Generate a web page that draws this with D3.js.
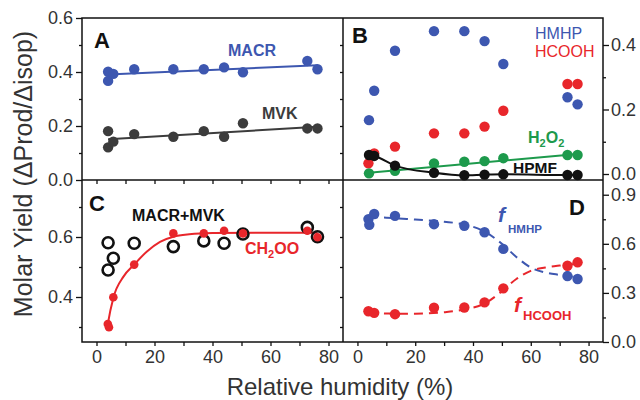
<!DOCTYPE html>
<html><head><meta charset="utf-8">
<script src="https://cdn.jsdelivr.net/npm/d3@7"></script>
<style>body{margin:0;background:#fff}svg{display:block;font-family:"Liberation Sans",Arial,sans-serif}</style>
</head><body><svg id="c" width="640" height="400"></svg>
<script>
// ---- data ----
const rhA = [4, 4, 5.8, 13, 26.5, 37, 44, 50.5, 72.7, 76.2];
const macr = [0.401, 0.367, 0.393, 0.410, 0.410, 0.410, 0.417, 0.399, 0.441, 0.410];
const mvk = [0.181, 0.121, 0.142, 0.170, 0.160, 0.181, 0.160, 0.210, 0.191, 0.191];
const macrFit = [[4, 0.391], [76.2, 0.425]];
const mvkFit = [[4, 0.151], [76.2, 0.197]];

const rhB = [4, 5.8, 13, 26.5, 37, 44, 50.5, 72.7, 76.2];
const hmhp = [0.167, 0.258, 0.382, 0.443, 0.443, 0.412, 0.341, 0.238, 0.216];
const rhHcooh = [3.8, 5.8, 13, 26.5, 37, 44, 50.5, 72.7, 76.2];
const hcooh = [0.033, 0.064, 0.085, 0.126, 0.126, 0.147, 0.196, 0.279, 0.279];
const rhH2o2 = [4, 13, 26.5, 37, 44, 50.5, 72.7, 76.2];
const h2o2 = [0.002, 0.010, 0.033, 0.038, 0.040, 0.049, 0.059, 0.059];
const h2o2Fit = [[4, 0.004], [76.2, 0.062]];
const hpmf = [0.059, 0.056, 0.026, 0.004, -0.004, -0.002, -0.001, -0.003, -0.003];

const macrMvk = [0.581, 0.490, 0.529, 0.579, 0.568, 0.587, 0.579, 0.610, 0.632, 0.601];
const rhCh2oo = [3.9, 4.3, 5.8, 13, 26.5, 37, 44, 50.5, 72.7, 76.2];
const ch2oo = [0.310, 0.299, 0.399, 0.508, 0.612, 0.612, 0.621, 0.612, 0.621, 0.599];
const ch2ooFit = [[3.6, 0.29], [4, 0.315], [5.8, 0.397], [9.3, 0.468], [12.9, 0.507], [17.3, 0.551], [21.9, 0.584], [26.5, 0.601], [32, 0.609], [40, 0.613], [55, 0.614], [76.2, 0.614]];

const rhD = [3.8, 4.1, 5.8, 13, 26.5, 37, 44, 50.5, 72.7, 76.2];
const fHmhp = [0.751, 0.716, 0.782, 0.771, 0.720, 0.710, 0.671, 0.569, 0.403, 0.385];
const rhD2 = [3.8, 5.8, 13, 26.5, 37, 44, 50.5, 72.7, 76.2];
const fHcooh = [0.188, 0.178, 0.170, 0.209, 0.211, 0.242, 0.328, 0.466, 0.487];
const fHmhpFit = [[4, 0.765], [10, 0.760], [20, 0.748], [30, 0.735], [37, 0.718], [44, 0.675], [50, 0.600], [55, 0.520], [60, 0.455], [65, 0.425], [70, 0.410], [76.2, 0.395]];
const fHcoohFit = [[4, 0.182], [10, 0.174], [20, 0.173], [30, 0.182], [37, 0.198], [44, 0.235], [50, 0.310], [55, 0.385], [60, 0.435], [65, 0.455], [70, 0.467], [76.2, 0.478]];

const xTicks = [0, 20, 40, 60, 80];
const xMinor = [10, 30, 50, 70];

// ---- colours ----
const BLUE = "#3d57b0", RED = "#e8262b", GREEN = "#1d9a4c", BLK = "#111", GRAY = "#3c3c3c";

const svg = d3.select("#c");
const L = 82, M = 343, R = 603, T = 18, H = 180, B = 342;
const xL = d3.scaleLinear().domain([-5, 85]).range([L, M]);
const xR = d3.scaleLinear().domain([-5, 85]).range([M, R]);
const yA = d3.scaleLinear().domain([0, 0.6]).range([H, T]);
const yB = d3.scaleLinear().domain([-0.0186, 0.4837]).range([H, T]);
const yC = d3.scaleLinear().domain([0.25, 0.79]).range([B, H]);
const yD = d3.scaleLinear().domain([0, 0.99]).range([B, H]);

function styleAxis(g) {
  g.select(".domain").remove();
  g.selectAll("line").attr("stroke", "#111").attr("stroke-width", 1.3);
  g.selectAll("text").attr("font-size", 18).attr("fill", "#333").attr("font-family", "Liberation Sans, Arial, sans-serif");
}
const f1 = d3.format(".1f");
function axis(gen, tr) { const g = svg.append("g").attr("transform", tr).call(gen); styleAxis(g); return g; }

// left axes
axis(d3.axisLeft(yA).tickValues([0, 0.2, 0.4, 0.6]).tickFormat(f1).tickSize(6).tickPadding(3), `translate(${L},0)`);
axis(d3.axisLeft(yA).tickValues([0.1, 0.3, 0.5]).tickFormat("").tickSize(3), `translate(${L},0)`);
axis(d3.axisLeft(yC).tickValues([0.4, 0.6]).tickFormat(f1).tickSize(6).tickPadding(3), `translate(${L},0)`);
axis(d3.axisLeft(yC).tickValues([0.3, 0.5, 0.7]).tickFormat("").tickSize(3), `translate(${L},0)`);
// mirrored inner ticks on divider
axis(d3.axisLeft(yA).tickValues([0.1, 0.2, 0.3, 0.4, 0.5]).tickFormat("").tickSize(3), `translate(${M},0)`);
axis(d3.axisLeft(yC).tickValues([0.3, 0.4, 0.5, 0.6, 0.7]).tickFormat("").tickSize(3), `translate(${M},0)`);
// right axes
axis(d3.axisRight(yB).tickValues([0, 0.2, 0.4]).tickFormat(f1).tickSize(6).tickPadding(2), `translate(${R},0)`);
axis(d3.axisRight(yB).tickValues([0.1, 0.3]).tickFormat("").tickSize(3), `translate(${R},0)`);
axis(d3.axisRight(yD).tickValues([0, 0.3, 0.6, 0.9]).tickFormat(f1).tickSize(6).tickPadding(2), `translate(${R},0)`);
axis(d3.axisRight(yD).tickValues([0.15, 0.45, 0.75]).tickFormat("").tickSize(3), `translate(${R},0)`);
// bottom axes
axis(d3.axisBottom(xL).tickValues(xTicks).tickFormat(d3.format("d")).tickSize(4).tickPadding(4), `translate(0,${B})`);
axis(d3.axisBottom(xL).tickValues(xMinor).tickFormat("").tickSize(4), `translate(0,${B})`);
axis(d3.axisBottom(xR).tickValues(xTicks).tickFormat(d3.format("d")).tickSize(4).tickPadding(4), `translate(0,${B})`);
axis(d3.axisBottom(xR).tickValues(xMinor).tickFormat("").tickSize(4), `translate(0,${B})`);
// mirrored ticks at middle divider
axis(d3.axisBottom(xL).tickValues(xTicks.concat(xMinor)).tickFormat("").tickSize(4), `translate(0,${H})`);

// frame
svg.append("rect").attr("x", L).attr("y", T).attr("width", R - L).attr("height", B - T)
  .attr("fill", "none").attr("stroke", "#111").attr("stroke-width", 1.5);
svg.append("line").attr("x1", M).attr("x2", M).attr("y1", T).attr("y2", B).attr("stroke", "#111").attr("stroke-width", 1.5);
svg.append("line").attr("x1", L).attr("x2", R).attr("y1", H).attr("y2", H).attr("stroke", "#111").attr("stroke-width", 1.5);

// helpers
function lineOf(pts, xs, ys, color, w, curve, dash) {
  const gen = d3.line().x(d => xs(d[0])).y(d => ys(d[1])).curve(curve || d3.curveLinear);
  const p = svg.append("path").datum(pts).attr("d", gen).attr("fill", "none")
    .attr("stroke", color).attr("stroke-width", w);
  if (dash) p.attr("stroke-dasharray", dash);
  return p;
}
function dots(xv, yv, xs, ys, color, r) {
  svg.append("g").selectAll("circle").data(xv.map((x, i) => [x, yv[i]])).join("circle")
    .attr("cx", d => xs(d[0])).attr("cy", d => ys(d[1])).attr("r", r).attr("fill", color);
}
function rings(xv, yv, xs, ys, color, r) {
  svg.append("g").selectAll("circle").data(xv.map((x, i) => [x, yv[i]])).join("circle")
    .attr("cx", d => xs(d[0])).attr("cy", d => ys(d[1])).attr("r", r).attr("fill", "none")
    .attr("stroke", color).attr("stroke-width", 2.6);
}
function txt(x, y, s, opts) {
  const t = svg.append("text").attr("x", x).attr("y", y).text(s)
    .attr("font-size", opts.size || 14).attr("fill", opts.color || "#111")
    .attr("font-weight", opts.weight || "bold");
  if (opts.style) t.attr("font-style", opts.style);
  if (opts.anchor) t.attr("text-anchor", opts.anchor);
  return t;
}

// Panel A
lineOf(macrFit, xL, yA, BLUE, 2);
dots(rhA, macr, xL, yA, BLUE, 5.2);
lineOf(mvkFit, xL, yA, GRAY, 2);
dots(rhA, mvk, xL, yA, GRAY, 5.2);
txt(94, 48, "A", {size: 22});
txt(228, 56, "MACR", {size: 16, color: BLUE});
txt(262, 119, "MVK", {size: 16, color: GRAY});

// Panel B
dots(rhB, hmhp, xR, yB, BLUE, 5.2);
dots(rhHcooh, hcooh, xR, yB, RED, 5.2);
lineOf(h2o2Fit, xR, yB, GREEN, 2);
dots(rhH2o2, h2o2, xR, yB, GREEN, 5.2);
lineOf(rhB.map((x, i) => [x, hpmf[i]]), xR, yB, BLK, 2, d3.curveMonotoneX);
dots(rhB, hpmf, xR, yB, BLK, 5.2);
txt(352, 43, "B", {size: 22});
txt(535, 39, "HMHP", {size: 16, color: BLUE, weight: "normal"});
txt(535, 57, "HCOOH", {size: 16, color: RED, weight: "normal"});
{
  const t = txt(528, 143, "H", {size: 16, color: GREEN});
  t.append("tspan").text("2").attr("font-size", 11).attr("dy", 4);
  t.append("tspan").text("O").attr("dy", -4);
  t.append("tspan").text("2").attr("font-size", 11).attr("dy", 4);
}
txt(513, 173, "HPMF", {size: 15.5});

// Panel C
lineOf(ch2ooFit, xL, yC, RED, 2, d3.curveMonotoneX);
rings(rhA, macrMvk, xL, yC, BLK, 5.5);
dots(rhCh2oo, ch2oo, xL, yC, RED, 4.3);
txt(89, 211, "C", {size: 22});
txt(132, 221, "MACR+MVK", {size: 16});
{
  const t = txt(245, 254, "CH", {size: 16, color: RED});
  t.append("tspan").text("2").attr("font-size", 11).attr("dy", 4);
  t.append("tspan").text("OO").attr("dy", -4);
}

// Panel D
lineOf(fHmhpFit, xR, yD, BLUE, 2, d3.curveMonotoneX, "9,6");
lineOf(fHcoohFit, xR, yD, RED, 2, d3.curveMonotoneX, "9,6");
dots(rhD, fHmhp, xR, yD, BLUE, 5.2);
dots(rhD2, fHcooh, xR, yD, RED, 5.2);
txt(569, 215, "D", {size: 22});
{
  const t = txt(498, 222, "f", {size: 21, color: BLUE, style: "italic"});
  t.append("tspan").text("HMHP").attr("font-size", 11.5).attr("font-style", "normal").attr("dx", 3).attr("dy", 11);
  const u = txt(514, 312, "f", {size: 21, color: RED, style: "italic"});
  u.append("tspan").text("HCOOH").attr("font-size", 13).attr("font-style", "normal").attr("dx", 2).attr("dy", 8);
}

// Axis titles
svg.append("text").attr("transform", "translate(32,174) rotate(-90)").attr("text-anchor", "middle")
  .attr("font-size", 25).attr("fill", "#333").text("Molar Yield (ΔProd/Δisop)");
svg.append("text").attr("x", 340).attr("y", 395).attr("text-anchor", "middle")
  .attr("font-size", 24).attr("fill", "#333").text("Relative humidity (%)");
</script></body></html>
